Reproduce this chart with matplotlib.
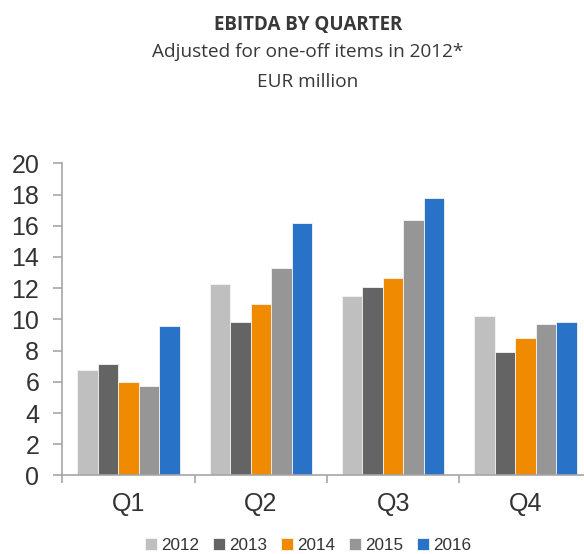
import matplotlib
matplotlib.use("Agg")
import matplotlib.pyplot as plt
import numpy as np

quarters = ["Q1", "Q2", "Q3", "Q4"]
years = ["2012", "2013", "2014", "2015", "2016"]
ebitda = {
    "2012": [6.75, 12.25, 11.5, 10.2],
    "2013": [7.15, 9.85, 12.1, 7.9],
    "2014": [6.0, 11.0, 12.65, 8.8],
    "2015": [5.75, 13.3, 16.35, 9.7],
    "2016": [9.6, 16.2, 17.75, 9.85],
}
colors = ["#BFBFBF", "#646464", "#F08A00", "#969696", "#2873C8"]

fig = plt.figure(figsize=(5.84, 5.54), dpi=100)
ax = fig.add_axes([0.107, 0.1417, 0.906, 0.5635])

x = np.arange(len(quarters))
w = 0.155
for i, (yr, c) in enumerate(zip(years, colors)):
    ax.bar(x + (i - 2) * w, ebitda[yr], width=w, color=c, label=yr,
           edgecolor="#F4F4F4", linewidth=0.6)

ax.set_xlim(-0.5, 3.5)
ax.set_ylim(0, 20)
ax.set_yticks(range(0, 21, 2))
ax.set_xticks(x)
ax.set_xticklabels(quarters)
ax.set_xticks(np.arange(-0.5, 4.0, 1.0), minor=True)

for s in ["top", "right"]:
    ax.spines[s].set_visible(False)
for s in ["left", "bottom"]:
    ax.spines[s].set_color("#A6A6A6")
    ax.spines[s].set_linewidth(1.2)

ax.tick_params(axis="y", length=6.8, width=1.2, color="#A6A6A6", pad=10,
               labelcolor="#333333", labelsize=18)
ax.tick_params(axis="x", which="major", length=0, pad=12,
               labelcolor="#333333", labelsize=18)
ax.tick_params(axis="x", which="minor", length=5.8, width=1.2, color="#A6A6A6")
for lab in ax.get_xticklabels() + ax.get_yticklabels():
    lab.set_family("Liberation Sans")

fig.text(0.527, 1 - 30 / 554, "EBITDA BY QUARTER", ha="center", va="baseline",
         fontsize=13.5, fontweight="bold", color="#383838", family="Open Sans")
fig.text(0.527, 1 - 56.7 / 554, "Adjusted for one-off items in 2012*", ha="center",
         va="baseline", fontsize=13.7, color="#383838", family="Open Sans")
fig.text(0.527, 1 - 87.3 / 554, "EUR million", ha="center", va="baseline",
         fontsize=13.7, color="#383838", family="Open Sans")

fig.legend(loc="center", bbox_to_anchor=(0.528, 1 - 545.5 / 554), ncol=5,
           frameon=False, prop={"family": "Liberation Sans", "size": 12.3},
           handlelength=0.7, handleheight=0.7, handletextpad=0.25,
           columnspacing=0.8, labelcolor="#333333")

fig.savefig("out.png", dpi=100)
